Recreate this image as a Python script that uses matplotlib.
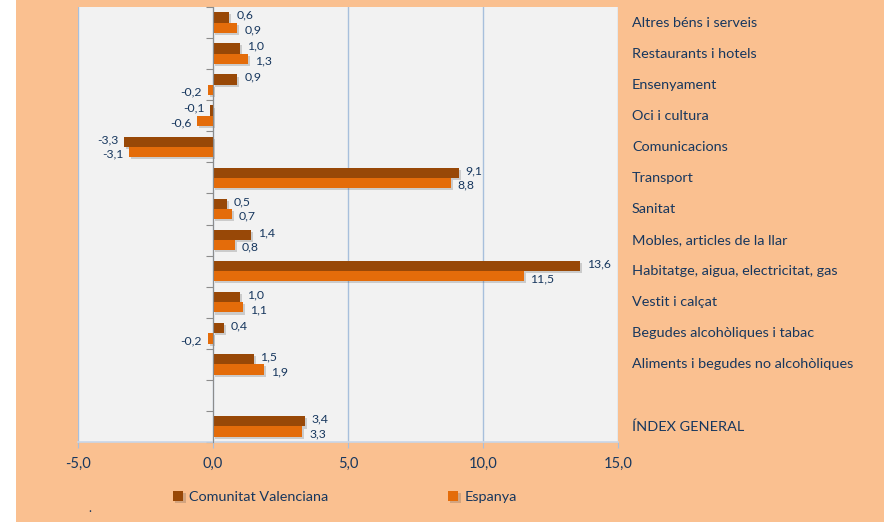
import matplotlib
matplotlib.use("Agg")
import matplotlib.pyplot as plt
import matplotlib.patheffects as pe
from matplotlib.patches import Rectangle
import numpy as np

categories = [
    "Altres béns i serveis",
    "Restaurants i hotels",
    "Ensenyament",
    "Oci i cultura",
    "Comunicacions",
    "Transport",
    "Sanitat",
    "Mobles, articles de la llar",
    "Habitatge, aigua, electricitat, gas",
    "Vestit i calçat",
    "Begudes alcohòliques i tabac",
    "Aliments i begudes no alcohòliques",
    "",
    "ÍNDEX GENERAL",
]
comunitat = [0.6, 1.0, 0.9, -0.1, -3.3, 9.1, 0.5, 1.4, 13.6, 1.0, 0.4, 1.5, None, 3.4]
espanya = [0.9, 1.3, -0.2, -0.6, -3.1, 8.8, 0.7, 0.8, 11.5, 1.1, -0.2, 1.9, None, 3.3]
series_names = ["Comunitat Valenciana", "Espanya"]
xticks = [-5, 0, 5, 10, 15]

PEACH = "#FAC090"
CV_COL = "#984807"
ES_COL = "#E46C0A"
TXT = "#17375E"
GRID = "#A7BFDC"

plt.rcParams['font.family'] = ['Lato', 'DejaVu Sans']

fig = plt.figure(figsize=(8.84, 5.22), dpi=100)
fig.patch.set_facecolor(PEACH)
fig.patches.append(Rectangle((0, 0), 16 / 884, 1, transform=fig.transFigure,
                             facecolor="white", edgecolor="none", zorder=0))

ax = fig.add_axes([78 / 884, 1 - 442 / 522, 540 / 884, 435 / 522])
ax.set_facecolor("#F2F2F2")

n = len(categories)
y = np.arange(n)
h = 0.33
shadow = [pe.SimplePatchShadow(offset=(1.5, -1.5), alpha=0.22, shadow_rgbFace="#444444"), pe.Normal()]

for vals, off, dy, col, name in [(comunitat, -h / 2, 1.6, CV_COL, series_names[0]),
                                 (espanya, h / 2, -1.6, ES_COL, series_names[1])]:
    ys = [yy + off for yy, v in zip(y, vals) if v is not None]
    vs = [v for v in vals if v is not None]
    bars = ax.barh(ys, vs, height=h, color=col, label=name, zorder=3)
    for b in bars:
        b.set_path_effects(shadow)
    for yy, v in zip(ys, vs):
        lab = f"{v:.1f}".replace(".", ",")
        if v >= 0:
            ax.annotate(lab, (v, yy), xytext=(5, dy), textcoords="offset points",
                        ha="left", va="center", fontsize=8.8, color=TXT, zorder=5)
        else:
            ax.annotate(lab, (v, yy), xytext=(-4, dy), textcoords="offset points",
                        ha="right", va="center", fontsize=8.8, color=TXT, zorder=5)

ax.set_xlim(-5, 15)
ax.set_ylim(n - 0.5, -0.5)
ax.set_xticks(xticks)
ax.set_xticklabels([f"{t:.1f}".replace(".", ",") for t in xticks], fontsize=10.5, color=TXT)
ax.tick_params(axis="x", length=4, color=GRID, pad=7)
ax.grid(axis="x", color=GRID, linewidth=1, zorder=1)
ax.set_axisbelow(True)

# category axis at zero
ax.spines["left"].set_position(("data", 0))
ax.spines["left"].set_color("#8C8C8C")
ax.spines["left"].set_zorder(4)
ax.set_yticks(np.arange(n + 1) - 0.5)
ax.set_yticklabels([])
ax.tick_params(axis="y", length=5, color="#8C8C8C", direction="out")
ax.spines["top"].set_visible(False)
ax.spines["right"].set_visible(False)
ax.spines["bottom"].set_color("#C8D6E8")
ax.spines["bottom"].set_linewidth(1.2)

for yy, cat in zip(y, categories):
    ax.text(1.026, yy, cat, transform=ax.get_yaxis_transform(), ha="left", va="center",
            fontsize=10.4, color=TXT, clip_on=False)

leg = fig.legend(loc="center", bbox_to_anchor=(345 / 884, 1 - 497 / 522), ncol=2, frameon=False,
                 fontsize=10.4, handlelength=0.7, handleheight=0.7, handletextpad=0.4,
                 columnspacing=8.3)
for t in leg.get_texts():
    t.set_color(TXT)

fig.text(90 / 884, 1 - 508 / 522, ".", fontsize=9, color=TXT, ha="center", va="center")

fig.savefig("out.png", dpi=100, facecolor=fig.get_facecolor())
